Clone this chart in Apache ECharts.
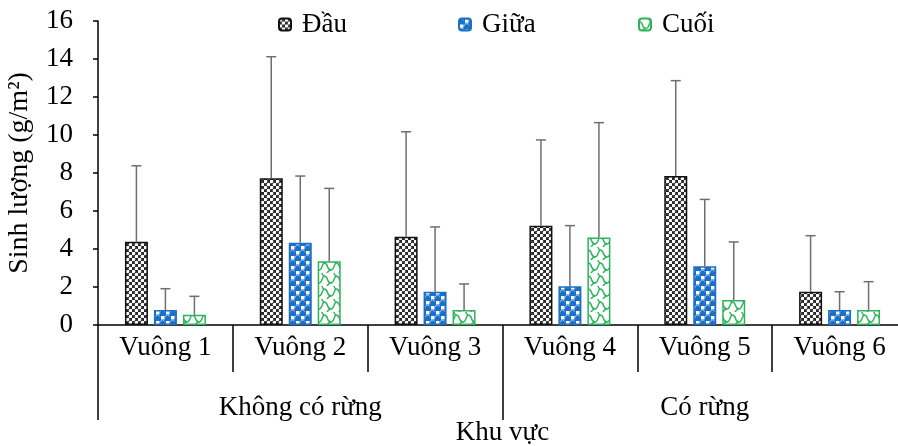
<!DOCTYPE html>
<html>
<head>
<meta charset="utf-8">
<script src="https://cdn.jsdelivr.net/npm/echarts@6/dist/echarts.min.js"></script>
<style>html,body{margin:0;padding:0;background:#fff}#c{width:898px;height:446px}</style>
</head>
<body>
<div id="c"></div>
<script>
// ---- data ----
const plots = ['Vuông 1', 'Vuông 2', 'Vuông 3', 'Vuông 4', 'Vuông 5', 'Vuông 6'];
const areas = ['Không có rừng', 'Có rừng'];
const seriesNames = ['Đầu', 'Giữa', 'Cuối'];
const dauMean  = [4.38, 7.72, 4.65, 5.23, 7.84, 1.75];
const dauSd    = [4.00, 6.40, 5.52, 4.51, 5.02, 2.95];
const giuaMean = [0.79, 4.33, 1.75, 2.04, 3.09, 0.79];
const giuaSd   = [1.12, 3.51, 3.41, 3.19, 3.52, 0.96];
const cuoiMean = [0.54, 3.35, 0.79, 4.60, 1.32, 0.79];
const cuoiSd   = [0.97, 3.84, 1.37, 6.05, 3.05, 1.49];
const yTicks = [0, 2, 4, 6, 8, 10, 12, 14, 16];

// ---- patterns ----
function tile(w, h, draw) {
  const c = document.createElement('canvas');
  c.width = w; c.height = h;
  draw(c.getContext('2d'), w, h);
  return c;
}
const patDau = tile(6, 6, (g) => {
  g.fillStyle = '#262626'; g.fillRect(0, 0, 6, 6);
  g.fillStyle = '#ffffff';
  g.beginPath(); g.arc(1.5, 1.5, 1.8, 0, Math.PI * 2); g.fill();
  g.beginPath(); g.arc(4.5, 4.5, 1.8, 0, Math.PI * 2); g.fill();
});
const patGiua = tile(10, 10, (g) => {
  g.fillStyle = '#1c6fc6'; g.fillRect(0, 0, 10, 10);
  g.fillStyle = '#ffffff';
  g.fillRect(6, 1, 3.5, 3.5); g.fillRect(1, 6, 3.5, 3.5);
  g.strokeStyle = '#9cc8f0'; g.lineWidth = 0.8;
  g.beginPath(); g.arc(2.5, 2.5, 2.3, Math.PI, Math.PI * 1.9); g.stroke();
  g.beginPath(); g.arc(7.5, 7.5, 2.3, Math.PI, Math.PI * 1.9); g.stroke();
});
const patCuoi = tile(12, 13, (g) => {
  g.fillStyle = '#ffffff'; g.fillRect(0, 0, 12, 13);
  g.strokeStyle = '#2eb35a'; g.lineWidth = 1.4;
  g.beginPath(); g.moveTo(0, 3); g.bezierCurveTo(5, 3, 2, 10, 7, 10); g.bezierCurveTo(10, 10, 10, 4, 12, 3); g.stroke();
  g.beginPath(); g.moveTo(0, 16); g.bezierCurveTo(3, 16, 3, 10, 7, 10); g.stroke();
  g.beginPath(); g.moveTo(7, -3); g.bezierCurveTo(10, -3, 10, 3, 12, 3); g.stroke();
});

const means = [dauMean, giuaMean, cuoiMean];
const sds = [dauSd, giuaSd, cuoiSd];
const fills = [patDau, patGiua, patCuoi];
const borders = ['#111111', '#1c6fc6', '#2eb35a'];
const offsets = [-29, 0, 29];
const FONT = 'Liberation Serif';
const FS = 27;

const series = [];
seriesNames.forEach((name, s) => {
  series.push({
    name: name, type: 'bar', xAxisIndex: 0, yAxisIndex: 0,
    barWidth: 23, barGap: '26%',
    itemStyle: { color: { image: fills[s], repeat: 'repeat' }, borderColor: borders[s], borderWidth: 1.5 },
    data: means[s]
  });
});
seriesNames.forEach((name, s) => {
  series.push({
    type: 'custom', xAxisIndex: 0, yAxisIndex: 0, silent: true, z: 5,
    data: means[s].map((m, i) => [i, m, m + sds[s][i]]),
    renderItem: function (params, api) {
      const base = api.coord([api.value(0), api.value(1)]);
      const top = api.coord([api.value(0), api.value(2)]);
      const x = base[0] + offsets[s];
      const st = { stroke: '#6e6e6e', lineWidth: 1.5 };
      return {
        type: 'group',
        children: [
          { type: 'line', shape: { x1: x, y1: base[1], x2: x, y2: top[1] }, style: st },
          { type: 'line', shape: { x1: x - 5, y1: top[1], x2: x + 5, y2: top[1] }, style: st }
        ]
      };
    }
  });
});

const legendBase = { top: 6, itemWidth: 12, itemHeight: 12, itemGap: 0,
  textStyle: { fontFamily: FONT, fontSize: FS, color: '#000', padding: [0, 0, 0, 6] } };
const chart = echarts.init(document.getElementById('c'));
chart.setOption({
  animation: false,
  backgroundColor: '#fff',
  legend: [
    Object.assign({}, legendBase, { left: 273, data: [seriesNames[0]] }),
    Object.assign({}, legendBase, { left: 453, data: [seriesNames[1]] }),
    Object.assign({}, legendBase, { left: 633, data: [seriesNames[2]] })
  ],
  grid: { left: 98, top: 21, width: 809, height: 304, containLabel: false, outerBoundsMode: 'none' },
  xAxis: [
    {
      type: 'category', data: plots, position: 'bottom',
      axisLine: { lineStyle: { color: '#000', width: 1.5 } },
      axisTick: { show: true, interval: 0, length: 47, lineStyle: { color: '#000', width: 1.5 } },
      axisLabel: { interval: 0, margin: 9, fontFamily: FONT, fontSize: FS, color: '#000' },
      name: 'Khu vực', nameLocation: 'middle', nameGap: 94,
      nameTextStyle: { fontFamily: FONT, fontSize: FS, color: '#000' }
    },
    {
      type: 'category', data: areas, position: 'bottom', gridIndex: 0,
      axisLine: { show: false },
      axisTick: { show: true, interval: 0, length: 95, lineStyle: { color: '#000', width: 1.5 } },
      axisLabel: { interval: 0, margin: 69, fontFamily: FONT, fontSize: FS, color: '#000' }
    }
  ],
  yAxis: {
    type: 'value', min: yTicks[0], max: yTicks[yTicks.length - 1], interval: 2,
    axisLine: { show: true, lineStyle: { color: '#000', width: 1.5 } },
    axisTick: { show: true, length: 5, lineStyle: { color: '#000', width: 1.5 } },
    splitLine: { show: false },
    axisLabel: { margin: 25, fontFamily: FONT, fontSize: FS, color: '#000' },
    name: 'Sinh lượng (g/m²)', nameLocation: 'middle', nameGap: 64,
    nameTextStyle: { fontFamily: FONT, fontSize: 28, color: '#000' }
  },
  series: series
});
</script>
</body>
</html>
